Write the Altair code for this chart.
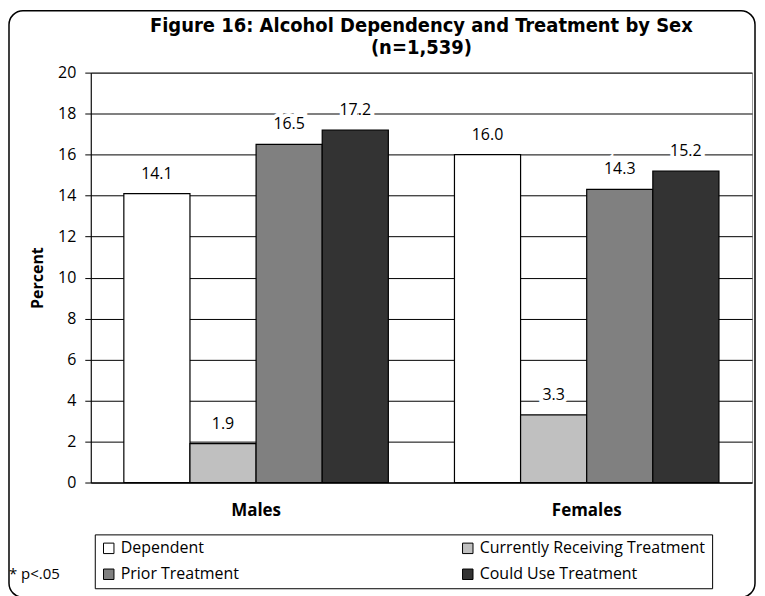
import altair as alt
import pandas as pd

sexes = ["Males", "Females"]
series = ["Dependent", "Currently Receiving Treatment", "Prior Treatment", "Could Use Treatment"]
males = [14.1, 1.9, 16.5, 17.2]
females = [16.0, 3.3, 14.3, 15.2]
colors = ["#ffffff", "#c0c0c0", "#808080", "#333333"]
y_ticks = [0, 2, 4, 6, 8, 10, 12, 14, 16, 18, 20]
title_lines = ["Figure 16: Alcohol Dependency and Treatment by Sex", "(n=1,539)"]

rows = []
for s, vals in zip(sexes, [males, females]):
    for ser, v in zip(series, vals):
        rows.append({"Sex": s, "Series": ser, "Value": v})
df = pd.DataFrame(rows)

W, H = 663, 411
FONT = "Open Sans"
TFONT = "DejaVu Sans Condensed, Liberation Sans Narrow, sans-serif"

x = alt.X("Sex:N", sort=sexes,
          scale=alt.Scale(paddingInner=0.2, paddingOuter=0.1),
          axis=alt.Axis(title=None, labelAngle=0, labelFontSize=17, labelFontWeight="bold",
                        labelColor="black", labelPadding=20, ticks=False,
                        domainColor="black", labelFont=FONT))
xo = alt.XOffset("Series:N", sort=series, scale=alt.Scale(paddingInner=0, paddingOuter=0))
y = alt.Y("Value:Q", scale=alt.Scale(domain=[0, 20]),
          axis=alt.Axis(values=y_ticks, title="Percent", titleFontSize=16, titleFont=FONT,
                        titleFontWeight="bold", titleColor="black", titlePadding=12,
                        labelFontSize=16, labelFont=FONT, labelColor="black",
                        labelPadding=9, tickSize=6, tickColor="black",
                        domainColor="black", grid=True, gridColor="black",
                        gridOpacity=1, gridWidth=1))

color = alt.Color("Series:N", sort=series,
                  scale=alt.Scale(domain=series, range=colors),
                  legend=alt.Legend(title=None, orient="none", legendX=4, legendY=463,
                                    columns=2, direction="horizontal",
                                    strokeColor="black", fillColor="white", padding=6,
                                    labelFontSize=16, labelFont=FONT, labelColor="black",
                                    labelLimit=400, symbolType="square", symbolSize=110,
                                    symbolStrokeColor="black", symbolStrokeWidth=1,
                                    symbolOpacity=1, rowPadding=10, columnPadding=221,
                                    labelOffset=4))

base = alt.Chart(df)
bars = base.mark_bar(stroke="black", strokeWidth=1.2).encode(x=x, xOffset=xo, y=y, color=color)
halo = base.mark_text(baseline="bottom", dy=-12, fontSize=16, font=FONT,
                      stroke="white", strokeWidth=8, fill="white").encode(
    x=x, xOffset=xo, y=y, text=alt.Text("Value:Q", format=".1f"))
labels = base.mark_text(baseline="bottom", dy=-12, fontSize=16, font=FONT,
                        color="black").encode(
    x=x, xOffset=xo, y=y, text=alt.Text("Value:Q", format=".1f"))

one = alt.Data(values=[{"a": 1}])
note = alt.Chart(one).mark_text(align="left", baseline="middle", fontSize=15, font=FONT,
                                color="black").encode(
    x=alt.value(-82), y=alt.value(503), text=alt.value("* p<.05"))
t1 = alt.Chart(one).mark_text(align="center", baseline="middle", fontSize=20, font=TFONT,
                              fontWeight="bold", color="black").encode(
    x=alt.value(W / 2), y=alt.value(-47), text=alt.value(title_lines[0]))
t2 = alt.Chart(one).mark_text(align="center", baseline="middle", fontSize=20, font=TFONT,
                              fontWeight="bold", color="black").encode(
    x=alt.value(W / 2), y=alt.value(-25), text=alt.value(title_lines[1]))
frame = alt.Chart(one).mark_rect(fill="transparent", stroke="black", strokeWidth=1.5,
                                 cornerRadius=14, clip=False).encode(
    x=alt.value(-82), x2=alt.value(666), y=alt.value(-62), y2=alt.value(526))

chart = alt.layer(bars, halo, labels, note, t1, t2, frame).properties(
    width=W, height=H,
    autosize=alt.AutoSizeParams(type="none"),
    padding={"left": 83, "top": 64, "right": 5, "bottom": 113},
).configure_view(stroke="#999999", strokeWidth=1)

chart.save("out.html", embed_options={"renderer": "svg", "actions": False})
